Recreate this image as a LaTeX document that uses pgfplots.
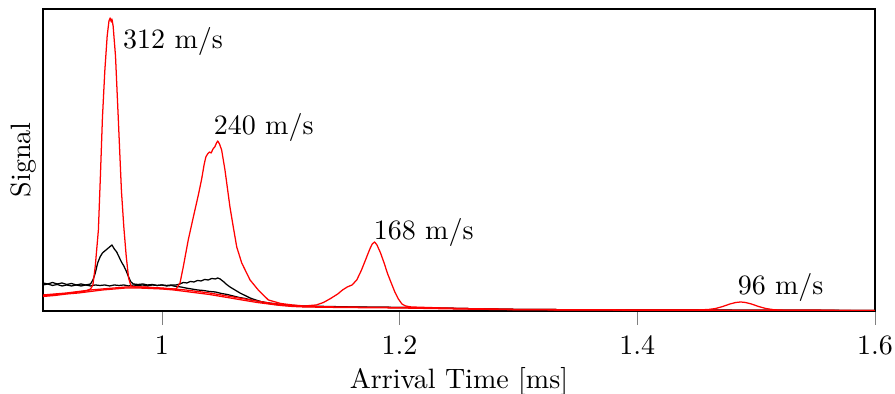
\documentclass[border=0pt]{standalone}
\usepackage{pgfplots}
\pgfplotsset{compat=1.18}
\begin{document}
\begin{tikzpicture}
\begin{axis}[
  scale only axis, width=297pt, height=107.8pt,
  xmin=0.9, xmax=1.6, ymin=0, ymax=302,
  xtick={1,1.2,1.4,1.6}, ytick=\empty,
  tick align=outside, xtick pos=bottom, major tick length=5pt,
  xticklabel style={anchor=base, inner sep=0pt, yshift=-10.4pt},
  xlabel={Arrival Time [ms]}, ylabel={Signal},
  xlabel style={at={(axis description cs:0.5,0)}, anchor=base, inner sep=0pt, yshift=-27.5pt},
  ylabel style={at={(axis description cs:-0.0237,0.5)}, anchor=center, inner sep=0pt},
  every axis plot/.append style={line width=0.45pt, line join=round},
]
% black traces
\addplot[black] coordinates {
(0.900,28) (0.904,27) (0.908,28.5) (0.912,27) (0.916,28) (0.920,26.5) (0.924,27.5) (0.928,26) (0.932,27) (0.936,26) (0.940,27)
(0.942,31) (0.944,38) (0.946,48) (0.948,54) (0.950,58) (0.952,60) (0.954,62) (0.956,64) (0.958,66) (0.960,62) (0.962,59)
(0.964,54) (0.966,49) (0.968,45) (0.970,40) (0.972,34) (0.974,29) (0.976,27) (0.980,26.5) (0.984,27) (0.988,26) (0.992,26.5)
(0.996,25.5) (1.000,26) (1.004,25) (1.008,25.5) (1.012,24.5) (1.016,24) (1.020,23) (1.025,22) (1.030,21) (1.035,20.5)
(1.040,19.5) (1.045,19) (1.050,17.5) (1.055,16.5) (1.060,15) (1.065,13.5) (1.070,12.5) (1.075,11) (1.080,10) (1.085,9)
(1.090,8) (1.100,6.5) (1.110,5.5) (1.120,5) (1.140,4.5) (1.160,4) (1.200,3.5) (1.250,2.5) (1.300,1.5) (1.400,1) (1.500,0.8) (1.600,0.5)
};
\addplot[black] coordinates {
(0.900,26) (0.904,27) (0.908,25.5) (0.912,26.5) (0.916,25) (0.920,26) (0.924,25) (0.928,26) (0.932,25) (0.936,26) (0.940,25)
(0.944,26) (0.948,25.5) (0.952,26) (0.956,25) (0.960,26) (0.964,25.5) (0.968,26) (0.972,25) (0.976,26) (0.980,25.5) (0.984,26)
(0.988,25) (0.992,26) (0.996,25.5) (1.000,26) (1.004,25.5) (1.008,26) (1.012,26) (1.0153,27) (1.018,28.5) (1.021,28) (1.024,29.5)
(1.027,29) (1.030,30.5) (1.033,30) (1.036,31.5) (1.039,31) (1.042,32.5) (1.045,32) (1.047,33) (1.049,32) (1.0517,29.5)
(1.0545,26.5) (1.0573,24) (1.0615,21) (1.0657,18) (1.070,15.5) (1.0742,13) (1.079,11) (1.084,9) (1.090,7.5) (1.095,6.5)
(1.100,6) (1.110,5) (1.120,4.5) (1.150,4) (1.200,3.5) (1.250,2.5) (1.300,1.5) (1.400,1) (1.500,0.7) (1.600,0.5)
};
% red baselines
\addplot[red] coordinates {
(0.900,16) (0.910,17) (0.920,18) (0.930,19.5) (0.940,21) (0.950,22) (0.960,23) (0.970,24) (0.980,24) (0.990,23.5) (1.000,23)
(1.010,22) (1.020,21) (1.030,19.5) (1.040,18) (1.050,16) (1.060,14) (1.070,12) (1.080,10) (1.090,8) (1.100,6.5) (1.110,5)
(1.120,4.5) (1.150,4) (1.200,3.5) (1.250,2.5) (1.300,1.5) (1.400,1) (1.500,0.7) (1.600,0.5)
};
\addplot[red] coordinates {
(0.900,14.5) (0.910,15.5) (0.920,17) (0.930,18) (0.940,19.5) (0.950,21) (0.960,22) (0.970,23) (0.980,23) (0.990,22.5) (1.000,22)
(1.010,21) (1.020,19.5) (1.030,18) (1.040,16.5) (1.050,14.5) (1.060,12.5) (1.070,10.5) (1.080,8.5) (1.090,7) (1.100,5.5) (1.110,4.5)
(1.120,4) (1.150,3.5) (1.200,3) (1.250,2) (1.300,1.2) (1.400,0.8) (1.500,0.5) (1.600,0.3)
};
% red main trace
\addplot[red] coordinates {
(0.900,15) (0.910,16.5) (0.920,17.5) (0.930,19) (0.936,20) (0.940,22) (0.942,26) (0.944,45) (0.9466,81) (0.9483,135) (0.950,193)
(0.952,240) (0.954,275) (0.9555,290) (0.9565,293) (0.9575,289) (0.958,292) (0.959,285) (0.961,255) (0.9634,191) (0.966,120)
(0.968,84) (0.970,55) (0.972,33) (0.974,25) (0.978,24) (0.985,24) (0.995,23) (1.005,22) (1.012,22) (1.0153,28) (1.018,44)
(1.0222,71) (1.0265,94) (1.0307,116) (1.0335,132) (1.0355,146) (1.037,154) (1.0385,157) (1.040,159) (1.0415,158) (1.043,162) (1.0445,164)
(1.046,168) (1.047,170) (1.0485,167) (1.0503,161) (1.0531,141) (1.0573,104) (1.0601,84) (1.0630,64) (1.0672,48) (1.0742,31) (1.0811,21)
(1.0896,11) (1.100,7.5) (1.110,6) (1.120,5) (1.130,6)
(1.136,8.5) (1.142,12.5) (1.148,17) (1.152,21) (1.156,24) (1.160,26) (1.164,31) (1.168,41) (1.172,53) (1.175,62) (1.177,67)
(1.179,69) (1.181,66) (1.184,58) (1.187,48) (1.190,37) (1.193,28) (1.196,19) (1.199,12) (1.202,7) (1.205,5) (1.210,4)
(1.250,2.5) (1.300,1.5) (1.400,1) (1.450,1) (1.460,1.5) (1.466,2.5) (1.472,4.5) (1.478,7) (1.483,8.5) (1.487,9) (1.491,8.5)
(1.496,7) (1.502,4.5) (1.508,2.5) (1.515,1.2) (1.525,0.7) (1.600,0.5)
};
\node[anchor=base west, inner sep=0pt] at (axis cs:0.967,262.7) {312 m/s};
\node[anchor=base west, inner sep=0pt] at (axis cs:1.0433,176) {240 m/s};
\node[anchor=base west, inner sep=0pt] at (axis cs:1.1779,71.7) {168 m/s};
\node[anchor=base west, inner sep=0pt] at (axis cs:1.4841,16) {96 m/s};
\end{axis}
\pgfresetboundingbox
\path[use as bounding box] ([xshift=-15.35pt,yshift=-29.63pt]current axis.south west) rectangle ([xshift=7.14pt,yshift=3.21pt]current axis.north east);
\end{tikzpicture}
\end{document}
